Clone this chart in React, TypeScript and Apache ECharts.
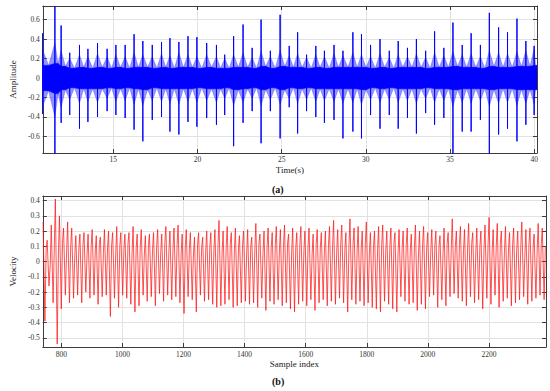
import React, { useEffect, useRef } from "react";
import * as echarts from "echarts";

// ---------- Panel (a): amplitude vs time ----------
const timeRange = [10.82, 40.16];
const ampRange = [-0.77, 0.74];

// impulse (spike) times in seconds and their positive / negative extremes
const spikeTimes = [
  10.79, 11.54, 11.91, 12.42, 13.0, 13.5, 14.07, 14.64, 15.16, 15.71, 16.24, 16.76, 17.32, 17.87,
  18.37, 18.9, 19.44, 19.97, 20.55, 21.13, 21.62, 22.15, 22.71, 23.25, 23.78, 24.33, 24.91, 25.45,
  25.95, 26.48, 27.03, 27.54, 28.11, 28.64, 29.23, 29.74, 30.28, 30.84, 31.39, 31.92, 32.47, 33.0,
  33.55, 34.08, 34.63, 35.17, 35.72, 36.25, 36.8, 37.33, 37.88, 38.41, 38.97, 39.5, 39.99,
];
const spikeUp = [
  0.46, 0.74, 0.54, 0.26, 0.34, 0.3, 0.36, 0.3, 0.34, 0.34, 0.45, 0.38, 0.34, 0.37, 0.41, 0.37,
  0.43, 0.42, 0.36, 0.34, 0.24, 0.43, 0.55, 0.31, 0.6, 0.28, 0.65, 0.33, 0.47, 0.24, 0.33, 0.28,
  0.34, 0.28, 0.47, 0.45, 0.34, 0.4, 0.28, 0.38, 0.31, 0.4, 0.28, 0.48, 0.31, 0.57, 0.34, 0.46,
  0.34, 0.67, 0.52, 0.47, 0.61, 0.38, 0.33,
];
const spikeDown = [
  -0.37, -0.78, -0.46, -0.38, -0.52, -0.45, -0.4, -0.34, -0.38, -0.41, -0.53, -0.65, -0.43, -0.4,
  -0.55, -0.58, -0.45, -0.5, -0.41, -0.48, -0.38, -0.7, -0.46, -0.34, -0.67, -0.34, -0.62, -0.3,
  -0.57, -0.34, -0.4, -0.46, -0.43, -0.62, -0.55, -0.62, -0.38, -0.52, -0.38, -0.52, -0.41, -0.57,
  -0.36, -0.48, -0.41, -0.78, -0.55, -0.55, -0.43, -0.78, -0.58, -0.52, -0.65, -0.48, -0.38,
];
// envelope of the vibration band: burst just after each impulse, and quiet level between impulses
const burstUp = [
  0.3, 0.36, 0.28, 0.2, 0.24, 0.22, 0.25, 0.22, 0.24, 0.22, 0.26, 0.24, 0.22, 0.25, 0.23, 0.26,
  0.24, 0.22, 0.24, 0.22, 0.2, 0.24, 0.26, 0.21, 0.27, 0.22, 0.28, 0.23, 0.25, 0.21, 0.24, 0.22,
  0.25, 0.23, 0.26, 0.24, 0.22, 0.25, 0.21, 0.24, 0.22, 0.25, 0.21, 0.26, 0.23, 0.27, 0.24, 0.25,
  0.22, 0.28, 0.26, 0.25, 0.27, 0.28, 0.3,
];
const burstDown = [
  -0.3, -0.4, -0.3, -0.22, -0.26, -0.24, -0.25, -0.21, -0.24, -0.23, -0.27, -0.28, -0.23, -0.24,
  -0.26, -0.27, -0.24, -0.25, -0.23, -0.25, -0.21, -0.28, -0.25, -0.21, -0.28, -0.22, -0.27, -0.21,
  -0.26, -0.22, -0.24, -0.23, -0.24, -0.26, -0.25, -0.27, -0.22, -0.25, -0.22, -0.25, -0.23, -0.26,
  -0.21, -0.25, -0.23, -0.29, -0.25, -0.26, -0.23, -0.29, -0.26, -0.25, -0.28, -0.26, -0.27,
];
const quietUp = [
  0.13, 0.15, 0.12, 0.1, 0.11, 0.1, 0.11, 0.1, 0.11, 0.1, 0.11, 0.11, 0.1, 0.11, 0.1, 0.11,
  0.11, 0.1, 0.11, 0.1, 0.1, 0.11, 0.11, 0.1, 0.12, 0.1, 0.12, 0.11, 0.11, 0.1, 0.11, 0.1,
  0.11, 0.11, 0.11, 0.11, 0.1, 0.11, 0.1, 0.11, 0.11, 0.11, 0.1, 0.11, 0.11, 0.12, 0.11, 0.11,
  0.1, 0.12, 0.11, 0.11, 0.12, 0.12, 0.13,
];
const quietDown = [
  -0.13, -0.16, -0.12, -0.1, -0.11, -0.11, -0.11, -0.1, -0.11, -0.1, -0.11, -0.12, -0.1, -0.11,
  -0.11, -0.11, -0.11, -0.1, -0.11, -0.11, -0.1, -0.12, -0.11, -0.1, -0.12, -0.1, -0.12, -0.1,
  -0.11, -0.1, -0.11, -0.11, -0.11, -0.11, -0.11, -0.12, -0.1, -0.11, -0.1, -0.11, -0.11, -0.11,
  -0.1, -0.11, -0.11, -0.12, -0.11, -0.11, -0.11, -0.12, -0.11, -0.11, -0.12, -0.12, -0.12,
];

// ---------- Panel (b): velocity vs sample index ----------
const sampleRange = [739, 2387];
const velRange = [-0.56, 0.43];
const velStart = 740;
const velCycle = 13.4; // samples per oscillation cycle
const velPeaks = [
  0.26, 0.14, 0.24, 0.41, 0.3, 0.22, 0.26, 0.22, 0.17, 0.18, 0.19, 0.18, 0.21, 0.17, 0.16, 0.21,
  0.2, 0.19, 0.23, 0.19, 0.18, 0.19, 0.23, 0.18, 0.21, 0.17, 0.18, 0.19, 0.21, 0.18, 0.23, 0.2,
  0.22, 0.24, 0.18, 0.21, 0.19, 0.16, 0.19, 0.16, 0.2,
  0.19, 0.21, 0.27, 0.2, 0.23, 0.19, 0.22, 0.17, 0.2, 0.21, 0.16, 0.25, 0.18, 0.2, 0.22, 0.19,
  0.23, 0.21, 0.24, 0.18, 0.22, 0.19, 0.23, 0.2, 0.22, 0.18, 0.21, 0.19, 0.2, 0.23, 0.27, 0.21,
  0.24, 0.19, 0.28, 0.22, 0.23, 0.2, 0.26, 0.19, 0.2,
  0.23, 0.24, 0.2, 0.22, 0.19, 0.21, 0.2, 0.22, 0.18, 0.24, 0.2, 0.23, 0.19, 0.21, 0.2, 0.17,
  0.22, 0.19, 0.28, 0.2, 0.23, 0.21, 0.25, 0.19, 0.22, 0.2, 0.24, 0.29, 0.21, 0.25, 0.2, 0.23,
  0.19, 0.22, 0.2, 0.26, 0.21, 0.22, 0.18, 0.25, 0.22,
];
// secondary (small) swing inside each cycle, between the trough and the next peak
const velMid = [
  0.08, -0.02, 0.1, 0.05, 0.12, 0.06, 0.1, 0.04, 0.09, 0.11, 0.05, 0.1, 0.07, 0.12, 0.06, 0.09,
  0.11, 0.05, 0.1, 0.08, 0.12, 0.06, 0.09, 0.1, 0.05, 0.11, 0.08, 0.1, 0.06, 0.12, 0.07, 0.09,
  0.11, 0.06, 0.1, 0.08, 0.05, 0.11, 0.09, 0.07, 0.1,
  0.08, 0.11, 0.06, 0.1, 0.12, 0.07, 0.09, 0.11, 0.05, 0.1, 0.08, 0.12, 0.06, 0.1, 0.09, 0.11,
  0.07, 0.1, 0.12, 0.06, 0.09, 0.11, 0.08, 0.1, 0.05, 0.12, 0.09, 0.07, 0.11, 0.1, 0.06, 0.12,
  0.08, 0.1, 0.11, 0.07, 0.09, 0.12, 0.06, 0.1, 0.08,
  0.11, 0.07, 0.1, 0.12, 0.06, 0.09, 0.11, 0.08, 0.1, 0.05, 0.12, 0.09, 0.07, 0.11, 0.1, 0.06,
  0.12, 0.08, 0.1, 0.11, 0.07, 0.09, 0.12, 0.06, 0.1, 0.08, 0.11, 0.07, 0.1, 0.12, 0.06, 0.09,
  0.11, 0.08, 0.1, 0.05, 0.12, 0.09, 0.07, 0.11, 0.1,
];
const velTroughs = [
  -0.39, -0.16, -0.27, -0.54, -0.31, -0.22, -0.27, -0.24, -0.22, -0.27, -0.2, -0.24, -0.22, -0.28,
  -0.23, -0.22, -0.36, -0.24, -0.3, -0.22, -0.24, -0.28, -0.33, -0.29, -0.22, -0.26, -0.23, -0.29,
  -0.21, -0.26, -0.22, -0.25, -0.23, -0.27, -0.34, -0.23, -0.25, -0.33, -0.22, -0.26, -0.25,
  -0.28, -0.3, -0.29, -0.28, -0.25, -0.3, -0.29, -0.27, -0.26, -0.28, -0.27, -0.3, -0.24, -0.32,
  -0.26, -0.28, -0.25, -0.29, -0.27, -0.31, -0.33, -0.28, -0.26, -0.29, -0.25, -0.32, -0.27, -0.25,
  -0.29, -0.26, -0.28, -0.24, -0.27, -0.33, -0.25, -0.28, -0.26, -0.29, -0.27, -0.3, -0.31,
  -0.33, -0.26, -0.28, -0.31, -0.33, -0.23, -0.26, -0.28, -0.27, -0.32, -0.28, -0.31, -0.23, -0.22,
  -0.3, -0.25, -0.29, -0.23, -0.21, -0.24, -0.26, -0.29, -0.23, -0.27, -0.25, -0.31, -0.24, -0.28,
  -0.22, -0.3, -0.26, -0.24, -0.29, -0.27, -0.25, -0.23, -0.28, -0.26, -0.24, -0.22, -0.25,
];

const FONT = "'Liberation Serif', 'Times New Roman', serif";
const AXIS_COLOR = "#3c3c3c";
const GRID_COLOR = "#e2e2e2";

function buildBand(upper: number[], lower: number[], between: number[], betweenLow: number[]) {
  const up: [number, number][] = [[timeRange[0], between[0]]];
  const lo: [number, number][] = [[timeRange[0], betweenLow[0]]];
  spikeTimes.forEach((t, i) => {
    const next = i + 1 < spikeTimes.length ? spikeTimes[i + 1] : timeRange[1];
    const mid = (t + next) / 2;
    up.push([t, upper[i]]);
    up.push([mid, between[i]]);
    lo.push([t, lower[i]]);
    lo.push([mid, betweenLow[i]]);
  });
  up.push([timeRange[1], between[between.length - 1]]);
  lo.push([timeRange[1], betweenLow[betweenLow.length - 1]]);
  return { up, lo };
}

const plain = (v: number) => String(Math.round(v * 1000) / 1000);

export default function App() {
  const ref = useRef<HTMLDivElement>(null);
  useEffect(() => {
    if (!ref.current) return;
    const chart = echarts.init(ref.current, undefined, { renderer: "svg" });

    const outer = buildBand(burstUp, burstDown, quietUp, quietDown);
    const inner = buildBand(quietUp, quietDown, quietUp, quietDown);

    const spikes: [number, number][] = [];
    spikeTimes.forEach((t, i) => {
      spikes.push([t, 0], [t, spikeUp[i]], [t, spikeDown[i]], [t, 0]);
    });

    // each cycle: peak -> trough -> small secondary swing -> next peak
    const vel: [number, number][] = [];
    velPeaks.forEach((p, k) => {
      const x = velStart + k * velCycle;
      vel.push([x, p]);
      vel.push([x + velCycle * 0.45, velTroughs[k]]);
      vel.push([x + velCycle * 0.75, velMid[k]]);
    });

    const axisLine = { show: true, onZero: false, lineStyle: { color: AXIS_COLOR, width: 1 } };
    const axisTick = { show: true, inside: true, length: 4, lineStyle: { color: AXIS_COLOR, width: 1 } };
    const label = (margin: number) => ({
      fontFamily: FONT,
      fontSize: 7.5,
      color: "#333",
      margin,
      showMinLabel: false,
      showMaxLabel: false,
      formatter: plain,
    });
    const nameStyle = { fontFamily: FONT, fontSize: 9, color: "#222" };
    const split = { show: true, lineStyle: { color: GRID_COLOR, width: 1 } };

    const areaSeries = (data: [number, number][], color: string, z: number) => ({
      type: "line",
      xAxisIndex: 0,
      yAxisIndex: 0,
      data,
      symbol: "none",
      lineStyle: { width: 0.6, color },
      areaStyle: { color, opacity: 1 },
      z,
      silent: true,
    });

    chart.setOption({
      animation: false,
      backgroundColor: "#ffffff",
      grid: [
        { left: 38, top: 6, width: 499, height: 147 },
        { left: 32, top: 196, width: 514, height: 151 },
      ],
      xAxis: [
        {
          type: "value", gridIndex: 0, min: timeRange[0], max: timeRange[1], splitNumber: 6,
          name: "Time(s)", nameLocation: "middle", nameGap: 12, nameTextStyle: nameStyle,
          axisLine, axisTick, axisLabel: label(2), splitLine: split,
        },
        {
          type: "value", gridIndex: 0, position: "top", min: timeRange[0], max: timeRange[1], splitNumber: 6,
          axisLine, axisTick, axisLabel: { show: false }, splitLine: { show: false },
        },
        {
          type: "value", gridIndex: 1, min: sampleRange[0], max: sampleRange[1], splitNumber: 8,
          name: "Sample index", nameLocation: "middle", nameGap: 12, nameTextStyle: nameStyle,
          axisLine, axisTick, axisLabel: label(3), splitLine: split,
        },
        {
          type: "value", gridIndex: 1, position: "top", min: sampleRange[0], max: sampleRange[1], splitNumber: 8,
          axisLine, axisTick, axisLabel: { show: false }, splitLine: { show: false },
        },
      ],
      yAxis: [
        {
          type: "value", gridIndex: 0, min: ampRange[0], max: ampRange[1], splitNumber: 8,
          name: "Amplitude", nameLocation: "middle", nameGap: 15, nameTextStyle: nameStyle,
          axisLine, axisTick, axisLabel: label(3), splitLine: split,
        },
        {
          type: "value", gridIndex: 0, position: "right", min: ampRange[0], max: ampRange[1], splitNumber: 8,
          axisLine, axisTick, axisLabel: { show: false }, splitLine: { show: false },
        },
        {
          type: "value", gridIndex: 1, min: velRange[0], max: velRange[1], splitNumber: 10,
          name: "Velocity", nameLocation: "middle", nameGap: 17, nameTextStyle: nameStyle,
          axisLine, axisTick, axisLabel: label(3), splitLine: split,
        },
        {
          type: "value", gridIndex: 1, position: "right", min: velRange[0], max: velRange[1], splitNumber: 10,
          axisLine, axisTick, axisLabel: { show: false }, splitLine: { show: false },
        },
      ],
      series: [
        areaSeries(outer.up, "rgba(40,40,255,0.5)", 2),
        areaSeries(outer.lo, "rgba(40,40,255,0.5)", 2),
        areaSeries(inner.up, "#0000ff", 3),
        areaSeries(inner.lo, "#0000ff", 3),
        {
          type: "line", xAxisIndex: 0, yAxisIndex: 0, data: spikes, symbol: "none",
          lineStyle: { width: 1, color: "#0000ff" }, z: 4, silent: true,
        },
        {
          type: "line", xAxisIndex: 2, yAxisIndex: 2, data: vel, symbol: "none",
          lineStyle: { width: 0.75, color: "#ff1a1a" }, z: 4, silent: true,
        },
      ],
      graphic: [
        {
          type: "text", left: 272, top: 184,
          style: { text: "(a)", fontFamily: FONT, fontSize: 10, fontWeight: "bold", fill: "#111" },
        },
        {
          type: "text", left: 272, top: 376,
          style: { text: "(b)", fontFamily: FONT, fontSize: 10, fontWeight: "bold", fill: "#111" },
        },
      ],
    });
    return () => chart.dispose();
  }, []);
  return (
    <div
      ref={ref}
      style={{ position: "absolute", left: 0, top: 0, width: 550, height: 391 }}
    />
  );
}
